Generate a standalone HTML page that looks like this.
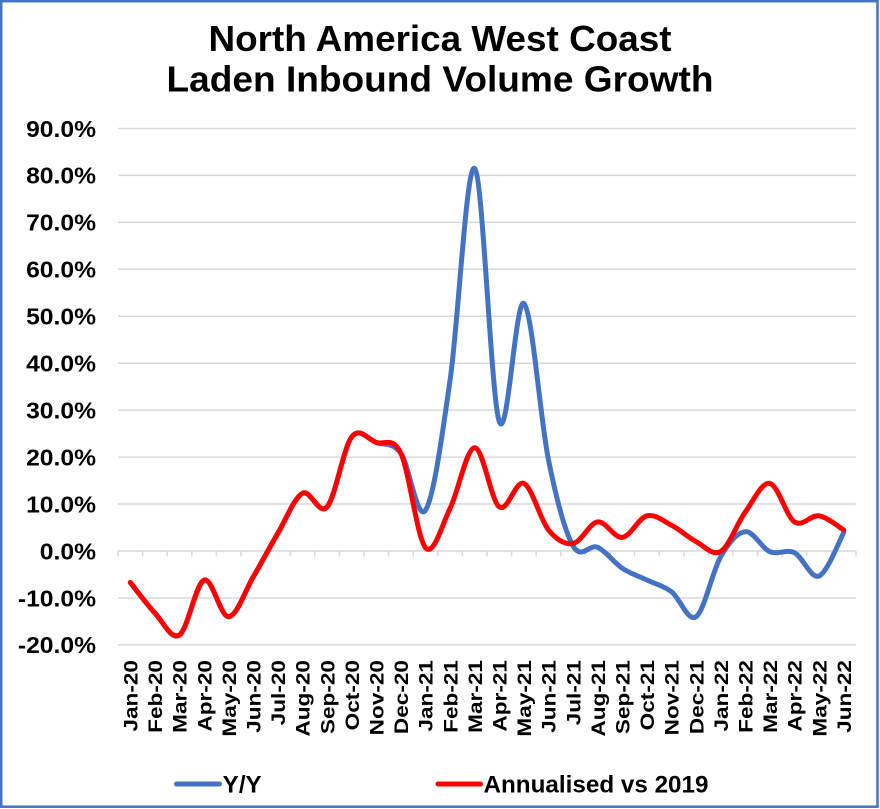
<!DOCTYPE html>
<html>
<head>
<meta charset="utf-8">
<style>
  html,body{margin:0;padding:0;background:#ffffff;}
  svg{display:block;}
  text{font-family:"Liberation Sans",Arial,sans-serif;font-weight:bold;fill:#000;}
</style>
</head>
<body>
<svg width="880" height="809" viewBox="0 0 880 809" xmlns="http://www.w3.org/2000/svg">
  <rect x="0" y="0" width="880" height="809" fill="#ffffff"/>
  <rect x="1.2" y="1.2" width="876.3" height="805.5" fill="#ffffff" stroke="#4472C4" stroke-width="2.5"/>

  <!-- Title -->
  <text x="440" y="51" font-size="36" text-anchor="middle" textLength="463" lengthAdjust="spacingAndGlyphs">North America West Coast</text>
  <text x="440" y="91.5" font-size="36" text-anchor="middle" textLength="547" lengthAdjust="spacingAndGlyphs">Laden Inbound Volume Growth</text>

  <!-- Gridlines -->
  <g stroke="#D9D9D9" stroke-width="1.5">
    <line x1="118" y1="128.45" x2="856" y2="128.45"/>
    <line x1="118" y1="175.4" x2="856" y2="175.4"/>
    <line x1="118" y1="222.35" x2="856" y2="222.35"/>
    <line x1="118" y1="269.3" x2="856" y2="269.3"/>
    <line x1="118" y1="316.25" x2="856" y2="316.25"/>
    <line x1="118" y1="363.2" x2="856" y2="363.2"/>
    <line x1="118" y1="410.15" x2="856" y2="410.15"/>
    <line x1="118" y1="457.1" x2="856" y2="457.1"/>
    <line x1="118" y1="504.05" x2="856" y2="504.05"/>
    <line x1="118" y1="551" x2="856" y2="551"/>
    <line x1="118" y1="597.95" x2="856" y2="597.95"/>
    <line x1="118" y1="644.9" x2="856" y2="644.9"/>
  </g>
  <!-- Tick marks -->
  <g stroke="#D9D9D9" stroke-width="1.5">
    <line x1="118" y1="551" x2="118" y2="556.5"/>
    <line x1="142.6" y1="551" x2="142.6" y2="556.5"/>
    <line x1="167.2" y1="551" x2="167.2" y2="556.5"/>
    <line x1="191.8" y1="551" x2="191.8" y2="556.5"/>
    <line x1="216.4" y1="551" x2="216.4" y2="556.5"/>
    <line x1="241" y1="551" x2="241" y2="556.5"/>
    <line x1="265.6" y1="551" x2="265.6" y2="556.5"/>
    <line x1="290.2" y1="551" x2="290.2" y2="556.5"/>
    <line x1="314.8" y1="551" x2="314.8" y2="556.5"/>
    <line x1="339.4" y1="551" x2="339.4" y2="556.5"/>
    <line x1="364" y1="551" x2="364" y2="556.5"/>
    <line x1="388.6" y1="551" x2="388.6" y2="556.5"/>
    <line x1="413.2" y1="551" x2="413.2" y2="556.5"/>
    <line x1="437.8" y1="551" x2="437.8" y2="556.5"/>
    <line x1="462.4" y1="551" x2="462.4" y2="556.5"/>
    <line x1="487" y1="551" x2="487" y2="556.5"/>
    <line x1="511.6" y1="551" x2="511.6" y2="556.5"/>
    <line x1="536.2" y1="551" x2="536.2" y2="556.5"/>
    <line x1="560.8" y1="551" x2="560.8" y2="556.5"/>
    <line x1="585.4" y1="551" x2="585.4" y2="556.5"/>
    <line x1="610" y1="551" x2="610" y2="556.5"/>
    <line x1="634.6" y1="551" x2="634.6" y2="556.5"/>
    <line x1="659.2" y1="551" x2="659.2" y2="556.5"/>
    <line x1="683.8" y1="551" x2="683.8" y2="556.5"/>
    <line x1="708.4" y1="551" x2="708.4" y2="556.5"/>
    <line x1="733" y1="551" x2="733" y2="556.5"/>
    <line x1="757.6" y1="551" x2="757.6" y2="556.5"/>
    <line x1="782.2" y1="551" x2="782.2" y2="556.5"/>
    <line x1="806.8" y1="551" x2="806.8" y2="556.5"/>
    <line x1="831.4" y1="551" x2="831.4" y2="556.5"/>
    <line x1="856" y1="551" x2="856" y2="556.5"/>
  </g>

  <!-- Y axis labels -->
  <g font-size="23.5" text-anchor="end">
    <text transform="translate(96,136.75) scale(1.05,1)">90.0%</text>
    <text transform="translate(96,183.7) scale(1.05,1)">80.0%</text>
    <text transform="translate(96,230.65) scale(1.05,1)">70.0%</text>
    <text transform="translate(96,277.6) scale(1.05,1)">60.0%</text>
    <text transform="translate(96,324.55) scale(1.05,1)">50.0%</text>
    <text transform="translate(96,371.5) scale(1.05,1)">40.0%</text>
    <text transform="translate(96,418.45) scale(1.05,1)">30.0%</text>
    <text transform="translate(96,465.4) scale(1.05,1)">20.0%</text>
    <text transform="translate(96,512.35) scale(1.05,1)">10.0%</text>
    <text transform="translate(96,559.3) scale(1.05,1)">0.0%</text>
    <text transform="translate(96,606.25) scale(1.05,1)">-10.0%</text>
    <text transform="translate(96,653.2) scale(1.05,1)">-20.0%</text>
  </g>

  <!-- X axis labels -->
  <g font-size="19" text-anchor="end">
    <text transform="translate(137.5,660) rotate(-90) scale(1.19,1)">Jan-20</text>
    <text transform="translate(162.1,660) rotate(-90) scale(1.19,1)">Feb-20</text>
    <text transform="translate(186.7,660) rotate(-90) scale(1.19,1)">Mar-20</text>
    <text transform="translate(211.3,660) rotate(-90) scale(1.19,1)">Apr-20</text>
    <text transform="translate(235.9,660) rotate(-90) scale(1.19,1)">May-20</text>
    <text transform="translate(260.5,660) rotate(-90) scale(1.19,1)">Jun-20</text>
    <text transform="translate(285.1,660) rotate(-90) scale(1.19,1)">Jul-20</text>
    <text transform="translate(309.7,660) rotate(-90) scale(1.19,1)">Aug-20</text>
    <text transform="translate(334.3,660) rotate(-90) scale(1.19,1)">Sep-20</text>
    <text transform="translate(358.9,660) rotate(-90) scale(1.19,1)">Oct-20</text>
    <text transform="translate(383.5,660) rotate(-90) scale(1.19,1)">Nov-20</text>
    <text transform="translate(408.1,660) rotate(-90) scale(1.19,1)">Dec-20</text>
    <text transform="translate(432.7,660) rotate(-90) scale(1.19,1)">Jan-21</text>
    <text transform="translate(457.3,660) rotate(-90) scale(1.19,1)">Feb-21</text>
    <text transform="translate(481.9,660) rotate(-90) scale(1.19,1)">Mar-21</text>
    <text transform="translate(506.5,660) rotate(-90) scale(1.19,1)">Apr-21</text>
    <text transform="translate(531.1,660) rotate(-90) scale(1.19,1)">May-21</text>
    <text transform="translate(555.7,660) rotate(-90) scale(1.19,1)">Jun-21</text>
    <text transform="translate(580.3,660) rotate(-90) scale(1.19,1)">Jul-21</text>
    <text transform="translate(604.9,660) rotate(-90) scale(1.19,1)">Aug-21</text>
    <text transform="translate(629.5,660) rotate(-90) scale(1.19,1)">Sep-21</text>
    <text transform="translate(654.1,660) rotate(-90) scale(1.19,1)">Oct-21</text>
    <text transform="translate(678.7,660) rotate(-90) scale(1.19,1)">Nov-21</text>
    <text transform="translate(703.3,660) rotate(-90) scale(1.19,1)">Dec-21</text>
    <text transform="translate(727.9,660) rotate(-90) scale(1.19,1)">Jan-22</text>
    <text transform="translate(752.5,660) rotate(-90) scale(1.19,1)">Feb-22</text>
    <text transform="translate(777.1,660) rotate(-90) scale(1.19,1)">Mar-22</text>
    <text transform="translate(801.7,660) rotate(-90) scale(1.19,1)">Apr-22</text>
    <text transform="translate(826.3,660) rotate(-90) scale(1.19,1)">May-22</text>
    <text transform="translate(850.9,660) rotate(-90) scale(1.19,1)">Jun-22</text>
  </g>

  <!-- Y/Y series (blue) -->
  <path fill="none" stroke="#4472C4" stroke-width="5" stroke-linecap="round" stroke-linejoin="round"
    d="M130.3,582.5
       C134.4,587.58 146.7,604.25 154.9,613.0
       C163.1,621.75 171.3,640.48 179.5,635.0
       C187.7,629.52 195.9,583.15 204.1,580.1
       C212.3,577.05 220.5,617.25 228.7,616.7
       C236.9,616.15 245.1,590.72 253.3,576.8
       C261.5,562.88 269.7,547.12 277.9,533.2
       C286.1,519.28 294.3,497.68 302.5,493.3
       C310.7,488.92 318.9,516.3 327.1,506.9
       C335.3,497.5 343.5,447.63 351.7,436.9
       C359.9,426.17 368.1,439.77 376.3,442.5
       C384.5,445.23 392.7,442.02 400.9,453.3
       C409.1,464.58 417.3,522.42 425.5,510.2
       C433.7,497.98 441.9,436.95 450.1,380.0
       C458.3,323.05 466.5,161.55 474.7,168.5
       C482.9,175.45 491.1,399.2 499.3,421.7
       C507.5,444.2 515.7,297.12 523.9,303.5
       C532.1,309.88 540.3,419.58 548.5,460.0
       C556.7,500.42 564.9,531.45 573.1,546.0
       C581.3,560.55 589.5,543.58 597.7,547.3
       C605.9,551.02 614.1,562.85 622.3,568.3
       C630.5,573.75 638.7,576.1 646.9,580.0
       C655.1,583.9 663.3,585.58 671.5,591.7
       C679.7,597.82 687.9,622.53 696.1,616.7
       C704.3,610.87 712.5,570.87 720.7,556.7
       C728.9,542.53 737.1,532.53 745.3,531.7
       C753.5,530.87 761.7,548.2 769.9,551.7
       C778.1,555.2 786.3,548.65 794.5,552.7
       C802.7,556.75 810.9,579.33 819.1,576.0
       C827.3,572.67 839.6,539.92 843.7,532.7"/>

  <!-- Annualised vs 2019 series (red) -->
  <path fill="none" stroke="#FF0000" stroke-width="5" stroke-linecap="round" stroke-linejoin="round"
    d="M130.3,582.5
       C134.4,587.58 146.7,604.25 154.9,613.0
       C163.1,621.75 171.3,640.48 179.5,635.0
       C187.7,629.52 195.9,583.15 204.1,580.1
       C212.3,577.05 220.5,617.25 228.7,616.7
       C236.9,616.15 245.1,590.72 253.3,576.8
       C261.5,562.88 269.7,547.12 277.9,533.2
       C286.1,519.28 294.3,497.68 302.5,493.3
       C310.7,488.92 318.9,516.3 327.1,506.9
       C335.3,497.5 343.5,447.63 351.7,436.9
       C359.9,426.17 368.1,439.77 376.3,442.5
       C384.5,445.23 392.7,435.77 400.9,453.3
       C409.1,470.83 417.3,538.53 425.5,547.7
       C433.7,556.87 441.9,524.97 450.1,508.3
       C458.3,491.63 466.5,447.93 474.7,447.7
       C482.9,447.47 491.1,500.95 499.3,506.9
       C507.5,512.85 515.7,479.57 523.9,483.4
       C532.1,487.23 540.3,519.88 548.5,529.9
       C556.7,539.92 564.9,544.83 573.1,543.5
       C581.3,542.17 589.5,522.92 597.7,521.9
       C605.9,520.88 614.1,538.42 622.3,537.4
       C630.5,536.38 638.7,517.83 646.9,515.8
       C655.1,513.77 663.3,520.9 671.5,525.2
       C679.7,529.5 687.9,537.22 696.1,541.6
       C704.3,545.98 712.5,556.43 720.7,551.5
       C728.9,546.57 737.1,523.35 745.3,512.0
       C753.5,500.65 761.7,481.75 769.9,483.4
       C778.1,485.05 786.3,516.5 794.5,521.9
       C802.7,527.3 810.9,514.47 819.1,515.8
       C827.3,517.13 839.6,527.55 843.7,529.9"/>

  <!-- Legend -->
  <line x1="176.5" y1="784" x2="219.5" y2="784" stroke="#4472C4" stroke-width="5" stroke-linecap="round"/>
  <text x="222.7" y="792.3" font-size="24" textLength="39" lengthAdjust="spacingAndGlyphs">Y/Y</text>
  <line x1="438" y1="784" x2="480.5" y2="784" stroke="#FF0000" stroke-width="5" stroke-linecap="round"/>
  <text x="483.5" y="792.3" font-size="24" textLength="225" lengthAdjust="spacingAndGlyphs">Annualised vs 2019</text>
</svg>
</body>
</html>
